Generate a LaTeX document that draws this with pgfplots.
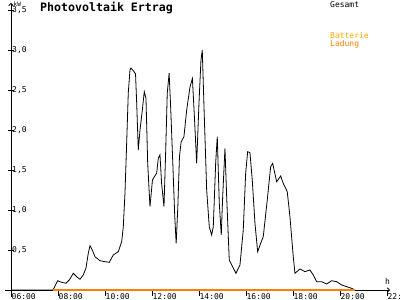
\documentclass[border=0pt]{standalone}
\usepackage{fontspec}
\setmainfont{DejaVu Sans Mono}
\usepackage{pgfplots}
\pgfplotsset{compat=1.18}
\usetikzlibrary{arrows.meta}
\definecolor{ladung}{RGB}{255,128,0}
\definecolor{batterie}{RGB}{255,170,0}
\newcommand{\tfont}{\fontsize{8}{8}\selectfont}
\pgfplotsset{base/.style={
  at={(11pt,10pt)}, anchor=south west,
  scale only axis, width=379pt, height=287pt,
  xmin=6, xmax=22.13, ymin=0, ymax=3.5875, clip=false}}
\begin{document}
\begin{tikzpicture}[x=1pt,y=1pt]
\useasboundingbox (0,0) rectangle (400,300);
\fill[white] (0,0) rectangle (400,300);
\begin{axis}[
  base,
  axis lines=left,
  axis line style={line width=0.8pt, -{To[length=3pt,width=5pt]}},
  xtick={6,8,...,22},
  xticklabels={06:00,08:00,10:00,12:00,14:00,16:00,18:00,20:00,22:00},
  ytick={0.5,1,...,3.5},
  yticklabels={{0,5},{1,0},{1,5},{2,0},{2,5},{3,0},{3,5}},
  tick align=center, major tick length=6pt,
  tick style={black, line width=0.8pt},
  xtick style={yshift=-3pt},
  xticklabel style={anchor=north west, inner sep=0pt, font=\tfont, xshift=0.5pt, yshift=-0.5pt},
  yticklabel style={anchor=west, inner sep=0pt, font=\tfont, xshift=4pt},
]
\addplot[black, line width=0.8pt] coordinates {
(6.0,0) (7.787,0) (7.983,0.116) (8.157,0.096) (8.340,0.084) (8.481,0.125)
(8.651,0.209) (8.796,0.166) (8.936,0.134) (9.077,0.188) (9.191,0.275)
(9.289,0.458) (9.362,0.554) (9.460,0.500) (9.574,0.416) (9.787,0.366)
(10.000,0.354) (10.183,0.346) (10.353,0.438) (10.566,0.479) (10.711,0.604)
(10.779,0.791) (10.851,1.213) (10.923,1.838) (10.991,2.463) (11.064,2.750)
(11.106,2.775) (11.234,2.729) (11.300,2.700) (11.349,2.338) (11.417,1.750)
(11.490,2.000) (11.590,2.250) (11.672,2.479) (11.745,2.395) (11.817,1.588)
(11.915,1.042) (12.020,1.375) (12.110,1.420) (12.200,1.460) (12.270,1.650)
(12.340,1.690) (12.410,1.330) (12.511,1.042) (12.580,1.700) (12.650,2.460)
(12.730,2.710) (12.800,2.250) (12.881,1.625) (12.970,0.917) (13.030,0.583)
(13.100,1.042) (13.170,1.670) (13.240,1.850) (13.360,1.917) (13.477,2.250)
(13.620,2.540) (13.720,2.645) (13.810,2.140) (13.902,1.583) (14.000,2.333)
(14.085,2.875) (14.140,3.000) (14.230,2.140) (14.328,1.250) (14.438,0.790)
(14.540,0.688) (14.609,0.790) (14.711,1.588) (14.779,1.916) (14.864,1.088)
(14.949,0.688) (15.009,1.166) (15.106,1.770) (15.179,1.166) (15.289,0.375)
(15.574,0.209) (15.745,0.313) (15.885,0.750) (15.987,1.458) (16.072,1.729)
(16.170,1.716) (16.268,1.375) (16.383,0.833) (16.498,0.479) (16.626,0.583)
(16.736,0.666) (16.906,1.125) (17.051,1.541) (17.136,1.583) (17.306,1.354)
(17.477,1.425) (17.587,1.333) (17.757,1.229) (17.872,0.916) (18.013,0.416)
(18.085,0.209) (18.298,0.263) (18.511,0.229) (18.723,0.250) (18.864,0.188)
(19.009,0.104) (19.221,0.104) (19.434,0.075) (19.647,0.116) (19.860,0.104)
(20.072,0.063) (20.285,0.041) (20.498,0.021) (20.638,0)
};
\end{axis}
\begin{axis}[base, hide axis]
\addplot[ladung, line width=1.2pt] coordinates {(7.787,0) (20.638,0)};
\end{axis}
\draw[line width=0.8pt] (11,10) -- (11,3);
\draw[line width=0.8pt] (11,10) -- (5,10);
\node[anchor=base west, inner sep=0pt, font=\bfseries\fontsize{11.6}{12}\selectfont] at (40,288) {Photovoltaik Ertrag};
\node[anchor=base west, inner sep=0pt, font=\fontsize{6}{6}\selectfont] at (13.5,293.5) {kW};
\node[anchor=base west, inner sep=0pt, font=\tfont] at (385,15) {h};
\node[anchor=base west, inner sep=0pt, font=\tfont] at (330,292.5) {Gesamt};
\node[anchor=base west, inner sep=0pt, font=\tfont, text=batterie] at (330,261) {Batterie};
\node[anchor=base west, inner sep=0pt, font=\tfont, text=ladung] at (330,253.5) {Ladung};
\end{tikzpicture}
\end{document}
